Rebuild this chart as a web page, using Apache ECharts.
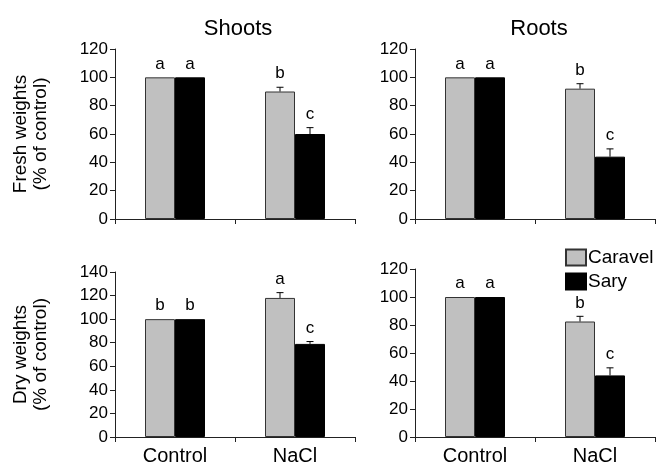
<!DOCTYPE html>
<html><head><meta charset="utf-8">
<script src="https://cdn.jsdelivr.net/npm/echarts@6/dist/echarts.min.js"></script>
<style>html,body{margin:0;padding:0;background:#fff}#c{width:657px;height:466px}</style>
</head><body><div id="c"></div>
<script>
var categories = ['Control', 'NaCl'];
var seriesNames = ['Caravel', 'Sary'];
// Fresh weights
var shootFreshCaravel = [100, 90];
var shootFreshSary = [100, 60];
var shootFreshCaravelErr = [0, 3];
var shootFreshSaryErr = [0, 4.5];
var shootFreshCaravelLetters = ['a', 'b'];
var shootFreshSaryLetters = ['a', 'c'];
var rootFreshCaravel = [100, 92];
var rootFreshSary = [100, 44];
var rootFreshCaravelErr = [0, 3.5];
var rootFreshSaryErr = [0, 5.5];
var rootFreshCaravelLetters = ['a', 'b'];
var rootFreshSaryLetters = ['a', 'c'];
// Dry weights
var shootDryCaravel = [100, 118];
var shootDrySary = [100, 79];
var shootDryCaravelErr = [0, 4.5];
var shootDrySaryErr = [0, 2];
var shootDryCaravelLetters = ['b', 'a'];
var shootDrySaryLetters = ['b', 'c'];
var rootDryCaravel = [100, 82.5];
var rootDrySary = [100, 44];
var rootDryCaravelErr = [0, 3.7];
var rootDrySaryErr = [0, 5.4];
var rootDryCaravelLetters = ['a', 'b'];
var rootDrySaryLetters = ['a', 'c'];
var yMaxTop = [120, 120];
var yMaxBottom = [140, 120];
var yInterval = 20;
var colTitles = ['Shoots', 'Roots'];
var rowNames = ['Fresh weights\n(% of control)', 'Dry weights\n(% of control)'];

var FONT = 'Liberation Sans, Arial, sans-serif';
var panels = [
  {grid: {left: 115, top: 49, width: 240, height: 170}, max: yMaxTop[0], c: shootFreshCaravel, s: shootFreshSary, ce: shootFreshCaravelErr, se: shootFreshSaryErr, cl: shootFreshCaravelLetters, sl: shootFreshSaryLetters, yname: rowNames[0], xlabels: false},
  {grid: {left: 415, top: 49, width: 240, height: 170}, max: yMaxTop[1], c: rootFreshCaravel, s: rootFreshSary, ce: rootFreshCaravelErr, se: rootFreshSaryErr, cl: rootFreshCaravelLetters, sl: rootFreshSaryLetters, yname: null, xlabels: false},
  {grid: {left: 115, top: 272, width: 240, height: 169}, max: yMaxBottom[0], c: shootDryCaravel, s: shootDrySary, ce: shootDryCaravelErr, se: shootDrySaryErr, cl: shootDryCaravelLetters, sl: shootDrySaryLetters, yname: rowNames[1], xlabels: true},
  {grid: {left: 415, top: 269, width: 240, height: 171}, max: yMaxBottom[1], c: rootDryCaravel, s: rootDrySary, ce: rootDryCaravelErr, se: rootDrySaryErr, cl: rootDryCaravelLetters, sl: rootDrySaryLetters, yname: null, xlabels: true}
];

var grids = [], xAxes = [], yAxes = [], series = [];
var axisLine = {lineStyle: {color: '#222', width: 1}};
panels.forEach(function (p, i) {
  grids.push(p.grid);
  xAxes.push({
    type: 'category', gridIndex: i, data: categories,
    axisLine: axisLine, axisTick: {show: true, length: 5, lineStyle: {color: '#222'}},
    axisLabel: {show: p.xlabels, color: '#000', fontSize: 20, fontFamily: FONT, margin: 9},
    splitLine: {show: false}
  });
  yAxes.push({
    type: 'value', gridIndex: i, min: 0, max: p.max, interval: yInterval,
    axisLine: {show: true, lineStyle: {color: '#222', width: 1}},
    axisTick: {show: true, length: 5, lineStyle: {color: '#222'}},
    axisLabel: {color: '#000', fontSize: 17, fontFamily: FONT, margin: 7},
    splitLine: {show: false},
    name: p.yname || '', nameLocation: 'middle', nameGap: 64, nameRotate: 90,
    nameTextStyle: {color: '#000', fontSize: 19, fontFamily: FONT, lineHeight: 20}
  });
  series.push({
    name: seriesNames[0], type: 'bar', xAxisIndex: i, yAxisIndex: i, data: p.c,
    barGap: '0%', barCategoryGap: '50%',
    itemStyle: {color: '#c0c0c0', borderColor: '#333', borderWidth: 1}
  });
  series.push({
    name: seriesNames[1], type: 'bar', xAxisIndex: i, yAxisIndex: i, data: p.s,
    barGap: '0%', barCategoryGap: '50%',
    itemStyle: {color: '#000', borderColor: '#000', borderWidth: 1}
  });
  var errData = [];
  for (var k = 0; k < categories.length; k++) {
    errData.push([k, p.c[k], p.ce[k], -1, p.cl[k]]);
    errData.push([k, p.s[k], p.se[k], 1, p.sl[k]]);
  }
  series.push({
    type: 'custom', xAxisIndex: i, yAxisIndex: i, data: errData, silent: true, z: 5,
    encode: {x: 0, y: 1},
    renderItem: function (params, api) {
      var cat = api.value(0), val = api.value(1), err = api.value(2), side = api.value(3);
      var letter = errData[params.dataIndex][4];
      var band = api.size([1, 0])[0];
      var off = side * band / 8;
      var base = api.coord([cat, val]);
      var top = api.coord([cat, val + err]);
      var x = base[0] + off;
      var children = [];
      if (err > 0) {
        children.push({type: 'line', shape: {x1: x, y1: base[1], x2: x, y2: top[1]}, style: {stroke: '#000', lineWidth: 1}});
        children.push({type: 'line', shape: {x1: x - 3.5, y1: top[1], x2: x + 3.5, y2: top[1]}, style: {stroke: '#000', lineWidth: 1}});
      }
      children.push({type: 'text', style: {text: letter, x: x, y: top[1] - 5, textAlign: 'center', textVerticalAlign: 'bottom', fill: '#000', fontSize: 17, fontFamily: FONT}});
      return {type: 'group', children: children};
    }
  });
});

var chart = echarts.init(document.getElementById('c'), null, {renderer: 'canvas'});
chart.setOption({
  animation: false,
  backgroundColor: '#fff',
  title: [
    {text: colTitles[0], left: 233, top: 13, textAlign: 'center', textStyle: {fontSize: 22, fontWeight: 'normal', color: '#000', fontFamily: FONT}},
    {text: colTitles[1], left: 534, top: 13, textAlign: 'center', textStyle: {fontSize: 22, fontWeight: 'normal', color: '#000', fontFamily: FONT}}
  ],
  legend: {
    data: seriesNames, orient: 'vertical', left: 560, top: 243, itemWidth: 20, itemHeight: 16, itemGap: 5,
    icon: 'rect', selectedMode: false,
    textStyle: {fontSize: 19, color: '#000', fontFamily: FONT, padding: [0, 0, 0, -3]}
  },
  grid: grids, xAxis: xAxes, yAxis: yAxes, series: series
});
</script></body></html>
